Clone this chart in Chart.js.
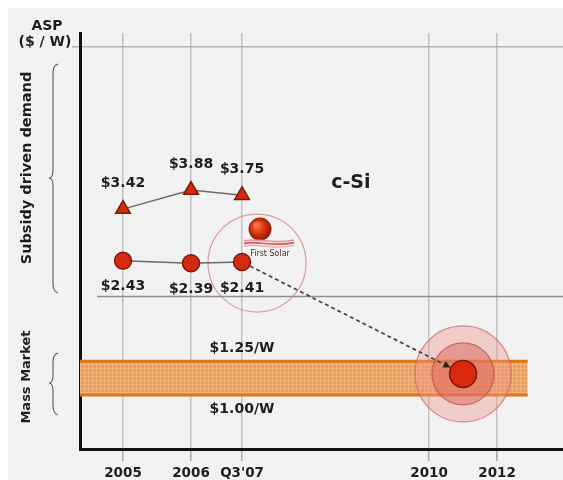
<!DOCTYPE html>
<html>
<head>
<meta charset="utf-8">
<script src="https://cdn.jsdelivr.net/npm/chart.js@4.4.1/dist/chart.umd.min.js"></script>
<style>
  html, body { margin: 0; padding: 0; background: #ffffff; }
  canvas { display: block; }
</style>
</head>
<body>
<canvas id="c" width="563" height="480"></canvas>
<script>
// Timeline categories and where they sit on the compressed time axis (half-year steps)
const periods = ['2005', '2006', "Q3'07", '2010', '2012'];
const periodX = [0, 2, 3.5, 9, 11];

// Average selling price, $ per watt
const csiPrice = [3.42, 3.88, 3.75];
const firstSolarPrice = [2.43, 2.39, 2.41];

// Mass-market price band ($/W) and the 2011 First Solar target
const massMarketBand = [1.00, 1.25];
const targetX = 10;          // 2011, midway between 2010 and 2012
const targetPrice = 1.15;

// Price level separating subsidy-driven demand from the mass market
const demandDivide = 1.92;
const axisTopPrice = 10;

const FONT = '"DejaVu Sans", Verdana, sans-serif';
const canvas = document.getElementById('c');
const ctx2d = canvas.getContext('2d');

function makeHatch(base, line, size) {
  const c = document.createElement('canvas');
  c.width = size; c.height = size;
  const g = c.getContext('2d');
  g.fillStyle = base; g.fillRect(0, 0, size, size);
  g.fillStyle = line; g.fillRect(0, 0, size, 1); g.fillRect(0, 0, 1, size);
  return ctx2d.createPattern(c, 'repeat');
}
const bandFill = makeHatch('#ee9b55', '#f3b47e', 4);

const xMin = -1.265, xMax = 12.94;
const bandEndX = 11.9;
const dividerStartX = -0.76;

function drawBrace(ctx, x, y1, y2, ym) {
  ctx.beginPath();
  ctx.moveTo(x + 5, y1);
  ctx.quadraticCurveTo(x, y1 + 1, x, y1 + 10);
  ctx.lineTo(x, ym - 8);
  ctx.quadraticCurveTo(x, ym, x - 4, ym);
  ctx.quadraticCurveTo(x, ym, x, ym + 8);
  ctx.lineTo(x, y2 - 10);
  ctx.quadraticCurveTo(x, y2 - 1, x + 5, y2);
  ctx.stroke();
}

function drawLogo(ctx, cx, cy) {
  const g = ctx.createRadialGradient(cx - 4, cy - 4, 1, cx, cy, 12);
  g.addColorStop(0, '#ff7a48');
  g.addColorStop(0.55, '#d8300e');
  g.addColorStop(1, '#861804');
  ctx.fillStyle = g;
  ctx.beginPath(); ctx.arc(cx, cy, 11.5, 0, Math.PI * 2); ctx.fill();
  const waveCols = ['#e79a9a', '#d45a5a', '#eeb4b4'];
  for (let k = 0; k < 3; k++) {
    ctx.strokeStyle = waveCols[k];
    ctx.lineWidth = 1.7;
    const y0 = cy + 12 + k * 2.6;
    ctx.beginPath();
    ctx.moveTo(cx - 16, y0);
    ctx.bezierCurveTo(cx - 4, y0 - 4, cx + 10, y0 + 4, cx + 34, y0 - 1);
    ctx.stroke();
  }
  ctx.fillStyle = '#5e2424';
  ctx.font = '8px ' + FONT;
  ctx.textAlign = 'center'; ctx.textBaseline = 'middle';
  ctx.fillText('First Solar', cx + 10, cy + 25);
}

const backdrop = {
  id: 'backdrop',
  beforeDraw(chart) {
    const c = chart.ctx;
    c.save();
    c.fillStyle = '#ffffff'; c.fillRect(0, 0, chart.width, chart.height);
    c.fillStyle = '#f2f2f2'; c.fillRect(8, 8, chart.width - 8, chart.height - 8);
    c.restore();
  }
};

const notes = {
  id: 'notes',
  beforeDatasetsDraw(chart) {
    const c = chart.ctx;
    const p = chart.getDatasetMeta(1).data[2];
    c.save();
    c.strokeStyle = 'rgba(214,140,140,0.85)';
    c.lineWidth = 1.2;
    c.beginPath(); c.arc(p.x + 15, p.y + 1, 49, 0, Math.PI * 2); c.stroke();
    c.restore();
  },
  afterDatasetsDraw(chart) {
    const c = chart.ctx;
    const xs = chart.scales.x, ys = chart.scales.y;
    const csiMeta = chart.getDatasetMeta(0);
    const fsMeta = chart.getDatasetMeta(1);
    c.save();

    // First Solar mark next to its latest price
    const last = fsMeta.data[2];
    drawLogo(c, last.x + 18, last.y - 33);

    // Dashed path from Q3'07 to the 2011 target
    const tx = xs.getPixelForValue(targetX), ty = ys.getPixelForValue(targetPrice);
    const dx = tx - last.x, dy = ty - last.y, len = Math.hypot(dx, dy);
    const ux = dx / len, uy = dy / len;
    const sx = last.x + ux * 9, sy = last.y + uy * 9;
    const ex = tx - ux * 14, ey = ty - uy * 14;
    c.strokeStyle = '#444444'; c.lineWidth = 1.7; c.setLineDash([4, 3]);
    c.beginPath(); c.moveTo(sx, sy); c.lineTo(ex - ux * 5, ey - uy * 5); c.stroke();
    c.setLineDash([]);
    c.fillStyle = '#222';
    c.beginPath();
    c.moveTo(ex, ey);
    c.lineTo(ex - ux * 7 - uy * 3.5, ey - uy * 7 + ux * 3.5);
    c.lineTo(ex - ux * 7 + uy * 3.5, ey - uy * 7 - ux * 3.5);
    c.closePath(); c.fill();

    // Price labels
    c.fillStyle = '#1e1e1e';
    c.font = 'bold 14px ' + FONT;
    c.textAlign = 'center'; c.textBaseline = 'middle';
    csiMeta.data.forEach((pt, i) => c.fillText('$' + csiPrice[i].toFixed(2), pt.x, pt.y - 26));
    fsMeta.data.forEach((pt, i) => c.fillText('$' + firstSolarPrice[i].toFixed(2), pt.x, pt.y + 26));

    // Band edge labels
    const bx = xs.getPixelForValue(periodX[2]);
    c.fillText('$' + massMarketBand[1].toFixed(2) + '/W', bx, ys.getPixelForValue(massMarketBand[1]) - 13);
    c.fillText('$' + massMarketBand[0].toFixed(2) + '/W', bx, ys.getPixelForValue(massMarketBand[0]) + 14);

    // Timeline labels under the axis
    c.font = 'bold 13.5px ' + FONT;
    periods.forEach((lab, i) => c.fillText(lab, xs.getPixelForValue(periodX[i]), xs.bottom + 24));

    // Technology label
    c.font = 'bold 19px ' + FONT;
    c.fillText('c-Si', xs.getPixelForValue(6.7), ys.getPixelForValue(4.05));

    // Axis title
    c.font = 'bold 14px ' + FONT;
    c.fillText('ASP', 47, 26);
    c.fillText('($ / W)', 45, 42);

    // Demand regions on the left
    c.save();
    c.translate(27, 168); c.rotate(-Math.PI / 2);
    c.font = 'bold 14.5px ' + FONT;
    c.fillText('Subsidy driven demand', 0, 0);
    c.restore();
    c.save();
    c.translate(27, 377); c.rotate(-Math.PI / 2);
    c.font = 'bold 13px ' + FONT;
    c.fillText('Mass Market', 0, 0);
    c.restore();

    c.strokeStyle = '#5a5a5a'; c.lineWidth = 1.1;
    drawBrace(c, 53, 64, 293, 178);
    drawBrace(c, 53, 353, 415, 383);

    c.restore();
  }
};

const pointsOf = (vals) => vals.map((y, i) => ({ x: periodX[i], y }));

new Chart(canvas, {
  type: 'line',
  data: {
    datasets: [
      {
        label: 'c-Si',
        data: pointsOf(csiPrice),
        borderColor: '#6a6a6a', borderWidth: 1.5,
        pointStyle: 'triangle', pointRadius: 8.5,
        pointBackgroundColor: '#d42a10', pointBorderColor: '#7c1a08', pointBorderWidth: 1.5,
        fill: false, order: 1
      },
      {
        label: 'First Solar',
        data: pointsOf(firstSolarPrice),
        borderColor: '#6a6a6a', borderWidth: 1.5,
        pointStyle: 'circle', pointRadius: 8.5,
        pointBackgroundColor: '#d42a10', pointBorderColor: '#7c1a08', pointBorderWidth: 1.5,
        fill: false, order: 1
      },
      {
        label: '2011 target',
        data: [0, 1, 2].map(() => ({ x: targetX, y: targetPrice })),
        showLine: false,
        pointRadius: [48, 31, 13.5],
        pointBackgroundColor: ['rgba(238,150,140,0.4)', 'rgba(222,100,88,0.5)', '#d8290e'],
        pointBorderColor: ['rgba(205,110,100,0.75)', 'rgba(185,75,65,0.7)', '#7c1a08'],
        pointBorderWidth: [1.3, 1.3, 1.5],
        order: 3
      },
      {
        label: 'Mass market high',
        data: [{ x: xMin, y: massMarketBand[1] }, { x: bandEndX, y: massMarketBand[1] }],
        borderColor: '#e0741a', borderWidth: 3, pointRadius: 0, fill: false, order: 5
      },
      {
        label: 'Mass market low',
        data: [{ x: xMin, y: massMarketBand[0] }, { x: bandEndX, y: massMarketBand[0] }],
        borderColor: '#e0741a', borderWidth: 3, pointRadius: 0,
        fill: '-1', backgroundColor: bandFill, order: 5
      },
      {
        label: 'Demand divide',
        data: [{ x: dividerStartX, y: demandDivide }, { x: xMax, y: demandDivide }],
        borderColor: '#8e8e8e', borderWidth: 1.5, pointRadius: 0, fill: false, order: 6
      }
    ]
  },
  options: {
    responsive: false,
    animation: false,
    events: [],
    layout: { autoPadding: false, padding: { left: 80, right: 0, top: 33, bottom: 31 } },
    plugins: { legend: { display: false }, tooltip: { enabled: false } },
    scales: {
      x: {
        type: 'linear', min: xMin, max: xMax,
        afterBuildTicks: (s) => { s.ticks = periodX.map(v => ({ value: v })); },
        afterFit: (s) => { s.height = 0; },
        ticks: { display: false },
        grid: { color: '#c2c2c2', lineWidth: 1.5, drawTicks: true, tickLength: 12, tickColor: '#a8a8a8' },
        border: { display: true, color: '#111111', width: 3 }
      },
      y: {
        type: 'logarithmic', min: 0.7194, max: 10.96,
        afterBuildTicks: (s) => { s.ticks = [{ value: axisTopPrice }]; },
        afterFit: (s) => { s.width = 0; },
        ticks: { display: false },
        grid: { color: '#b4b4b4', lineWidth: 1.5, drawTicks: true, tickLength: 8, tickColor: '#b4b4b4' },
        border: { display: true, color: '#111111', width: 3 }
      }
    }
  },
  plugins: [backdrop, notes]
});
</script>
</body>
</html>
